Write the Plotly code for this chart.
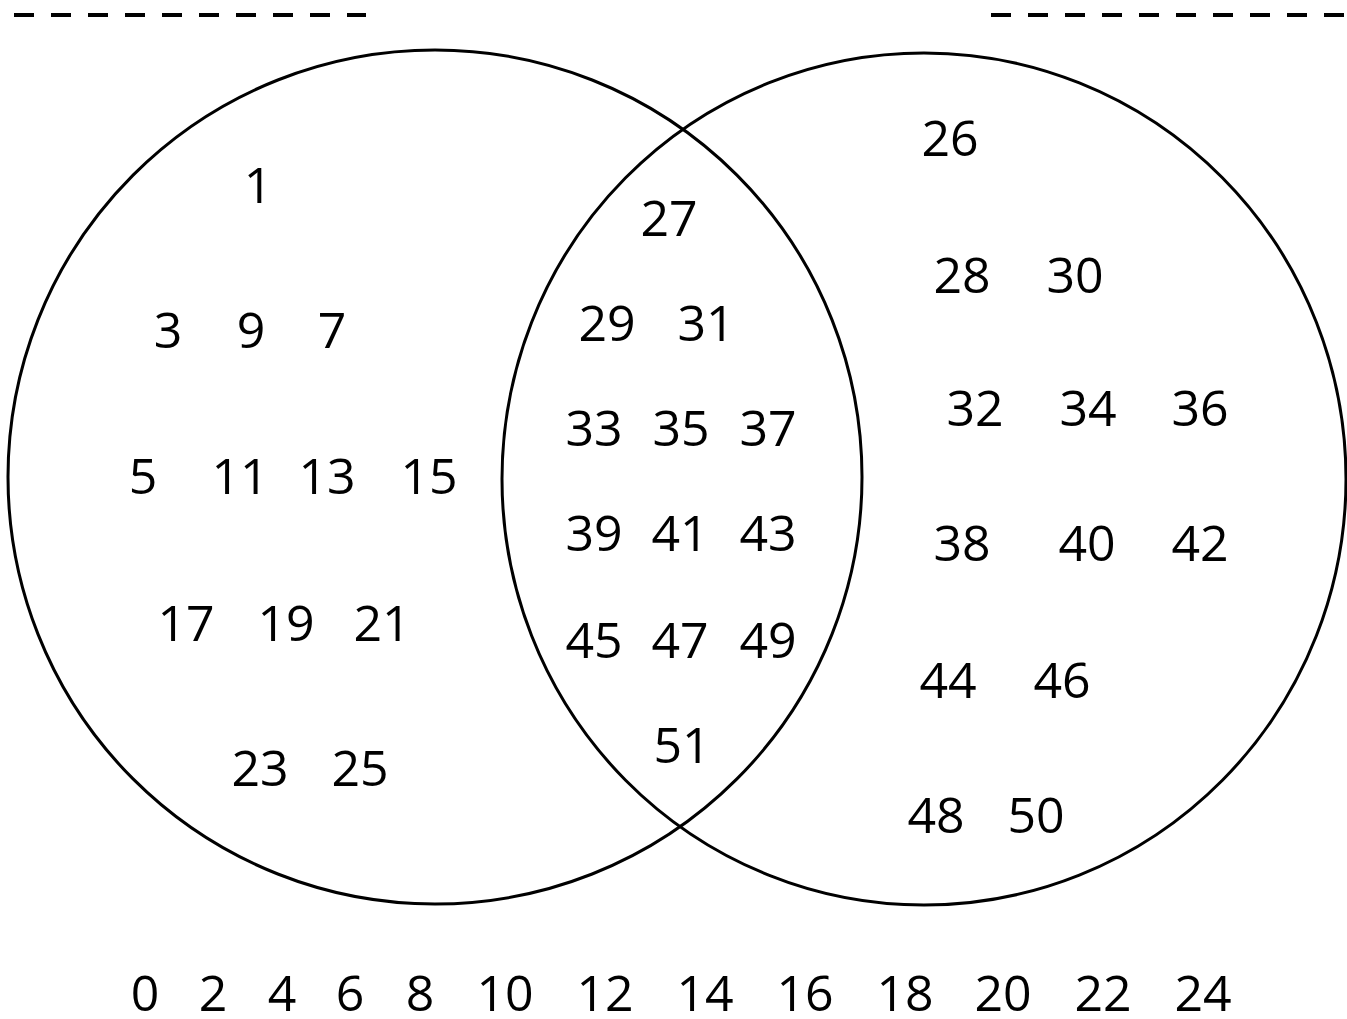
import plotly.graph_objects as go

# --- data: set members ---
left_only = ["1", "3", "9", "7", "5", "11", "13", "15", "17", "19", "21", "23", "25"]
both = ["27", "29", "31", "33", "35", "37", "39", "41", "43", "45", "47", "49", "51"]
right_only = ["26", "28", "30", "32", "34", "36", "38", "40", "42", "44", "46", "48", "50"]
outside = ["0", "2", "4", "6", "8", "10", "12", "14", "16", "18", "20", "22", "24"]

# --- layout positions (pixel space) ---
left_pos = [(258, 185), (168, 330), (251, 330), (332, 330),
            (143, 476), (240, 476), (327, 476), (429, 476),
            (186, 623), (286, 623), (382, 623),
            (260, 768), (360, 768)]
both_pos = [(669, 218), (607, 323), (706, 323),
            (594, 428), (681, 428), (768, 428),
            (594, 533), (680, 533), (768, 533),
            (594, 640), (680, 640), (768, 640),
            (682, 745)]
right_pos = [(950, 138), (962, 275), (1075, 275),
             (975, 408), (1088, 408), (1200, 408),
             (962, 543), (1087, 543), (1200, 543),
             (948, 680), (1062, 680),
             (936, 815), (1036, 815)]
outside_x = [145, 213, 282, 350, 420, 505, 605, 705, 805, 905, 1003, 1103, 1203]
outside_y = 993

W, H = 1347, 1019
Y_SHIFT = 5  # text baseline compensation
FONT = dict(family="Open Sans", size=50, color="black")

fig = go.Figure()


def add_group(labels, pos):
    fig.add_trace(go.Scatter(
        x=[p[0] for p in pos], y=[p[1] + Y_SHIFT for p in pos],
        mode="text", text=labels, textposition="middle center",
        textfont=FONT, hoverinfo="skip", showlegend=False))


add_group(left_only, left_pos)
add_group(both, both_pos)
add_group(right_only, right_pos)
add_group(outside, [(x, outside_y) for x in outside_x])

# circles
fig.add_shape(type="circle", xref="x", yref="y", x0=8, x1=862, y0=50, y1=904,
              line=dict(color="black", width=3))
fig.add_shape(type="circle", xref="x", yref="y", x0=502, x1=1346, y0=53, y1=905,
              line=dict(color="black", width=3))

# dashed lines at top
fig.add_shape(type="line", xref="x", yref="y", x0=14, x1=366, y0=15, y1=15,
              line=dict(color="black", width=4, dash="20px,17px"))
fig.add_shape(type="line", xref="x", yref="y", x0=991, x1=1345, y0=15, y1=15,
              line=dict(color="black", width=4, dash="20px,17px"))

fig.update_layout(
    width=W, height=H,
    margin=dict(l=0, r=0, t=0, b=0),
    paper_bgcolor="white", plot_bgcolor="white",
    xaxis=dict(range=[0, W], visible=False, fixedrange=True),
    yaxis=dict(range=[H, 0], visible=False, fixedrange=True),
)

fig.write_html(
    "out.html",
    config={"displayModeBar": False},
    post_script="document.body.style.margin='0';document.body.style.overflow='hidden';",
)
